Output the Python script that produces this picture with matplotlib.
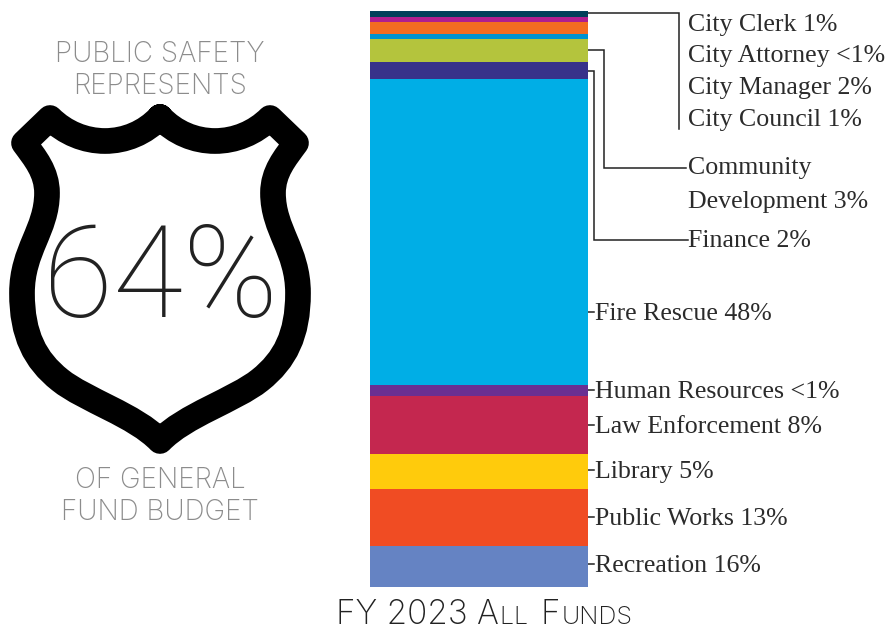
import matplotlib
matplotlib.use('Agg')
import matplotlib.pyplot as plt
from matplotlib.path import Path
from matplotlib.patches import PathPatch

# top to bottom
departments = ["City Clerk", "City Attorney", "City Manager", "City Council", "Community Development",
               "Finance", "Fire Rescue", "Human Resources", "Law Enforcement", "Library", "Public Works", "Recreation"]
bar_values = [1.0, 0.9, 2.1, 0.9, 4.0, 3.0, 53.1, 1.9, 10.1, 6.1, 9.9, 7.1]
bar_colors = ['#004059', '#B01E8E', '#F36C21', '#0093D0', '#B4C43D', '#38328A',
              '#00AEE6', '#6A2F92', '#C4274F', '#FFCB0C', '#F04C23', '#6583C3']
labels = ["City Clerk 1%", "City Attorney <1%", "City Manager 2%", "City Council 1%", "Community\nDevelopment 3%",
          "Finance 2%", "Fire Rescue 48%", "Human Resources <1%", "Law Enforcement 8%", "Library 5%",
          "Public Works 13%", "Recreation 16%"]
label_y = [25, 56, 88, 120, 185, 241, 314, 392, 427, 472, 519, 566]
tick_y = [312, 390, 425, 470, 517, 564]

W, H = 890, 630
fig = plt.figure(figsize=(W/100, H/100), dpi=100)

# overlay in pixel coords for the shield, leaders and text
ov = fig.add_axes([0, 0, 1, 1])
ov.set_xlim(0, W)
ov.set_ylim(H, 0)
ov.axis('off')

ax = fig.add_axes([370/W, 1-587/H, 218/W, 576/H])
bottom = 0
for v, c in zip(bar_values, bar_colors):
    ax.bar(0, v, width=1, bottom=bottom, color=c, linewidth=0)
    bottom += v
ax.set_xlim(-0.5, 0.5)
ax.set_ylim(bottom, 0)
ax.axis('off')

serif = 'Liberation Serif'
for i, lab in enumerate(labels):
    x = 688 if i < 6 else 595
    ov.text(x, label_y[i], lab, family=serif, fontsize=18.6, color='#2b2b2b', va='center', ha='left', linespacing=1.65)

# leader lines
line = dict(color='#222222', lw=1.1, solid_joinstyle='miter')
ov.plot([588, 679, 679], [13, 13, 129], **line)
ov.plot([588, 604, 604, 686], [50, 50, 168, 168], **line)
ov.plot([588, 594, 594, 688], [71, 71, 240, 240], **line)
for y in tick_y:
    ov.plot([588, 594], [y, y], **line)

# shield outline
left = [(160, 117), (145, 133), (125, 141), (105, 141), (85, 141), (65, 133), (50, 118),
        (24, 143), (35, 158), (47, 172), (47, 193), (47, 230), (22, 250), (22, 293),
        (22, 335), (35, 360), (60, 380), (85, 400), (135, 415), (160, 441)]
right = [(320-x, y) for x, y in left[::-1]][1:]
codes = [Path.MOVETO] + [Path.CURVE4]*6 + [Path.LINETO] + [Path.CURVE4]*12
rcodes = [Path.CURVE4]*12 + [Path.LINETO] + [Path.CURVE4]*6
ov.add_patch(PathPatch(Path(left+right, codes+rcodes), fc='none', ec='black', lw=18.5, joinstyle='round', capstyle='round'))

sans = 'Inter'
grey = dict(family=sans, weight=200, fontsize=20, color='#8c8c8c', ha='center', va='center')
ov.text(160, 54, "PUBLIC SAFETY", **grey)
ov.text(160, 86, "REPRESENTS", **grey)
ov.text(160, 480, "OF GENERAL", **grey)
ov.text(160, 512, "FUND BUDGET", **grey)
ov.text(161, 282, "64%", family='Roboto', weight='light', fontsize=92, color='#222222', ha='center', va='center')

# small caps title, built piece by piece
pieces = [("FY 2023 A", 24), ("LL ", 18), ("F", 24), ("UNDS", 18)]
x = 336
r = fig.canvas.get_renderer()
for s, size in pieces:
    t = ov.text(x, 624, s, family=sans, weight=200, fontsize=size, color='#222222', ha='left', va='baseline')
    x += t.get_window_extent(r).width + (6 if s.endswith(' ') else 1)

fig.savefig('out.png', dpi=100)
